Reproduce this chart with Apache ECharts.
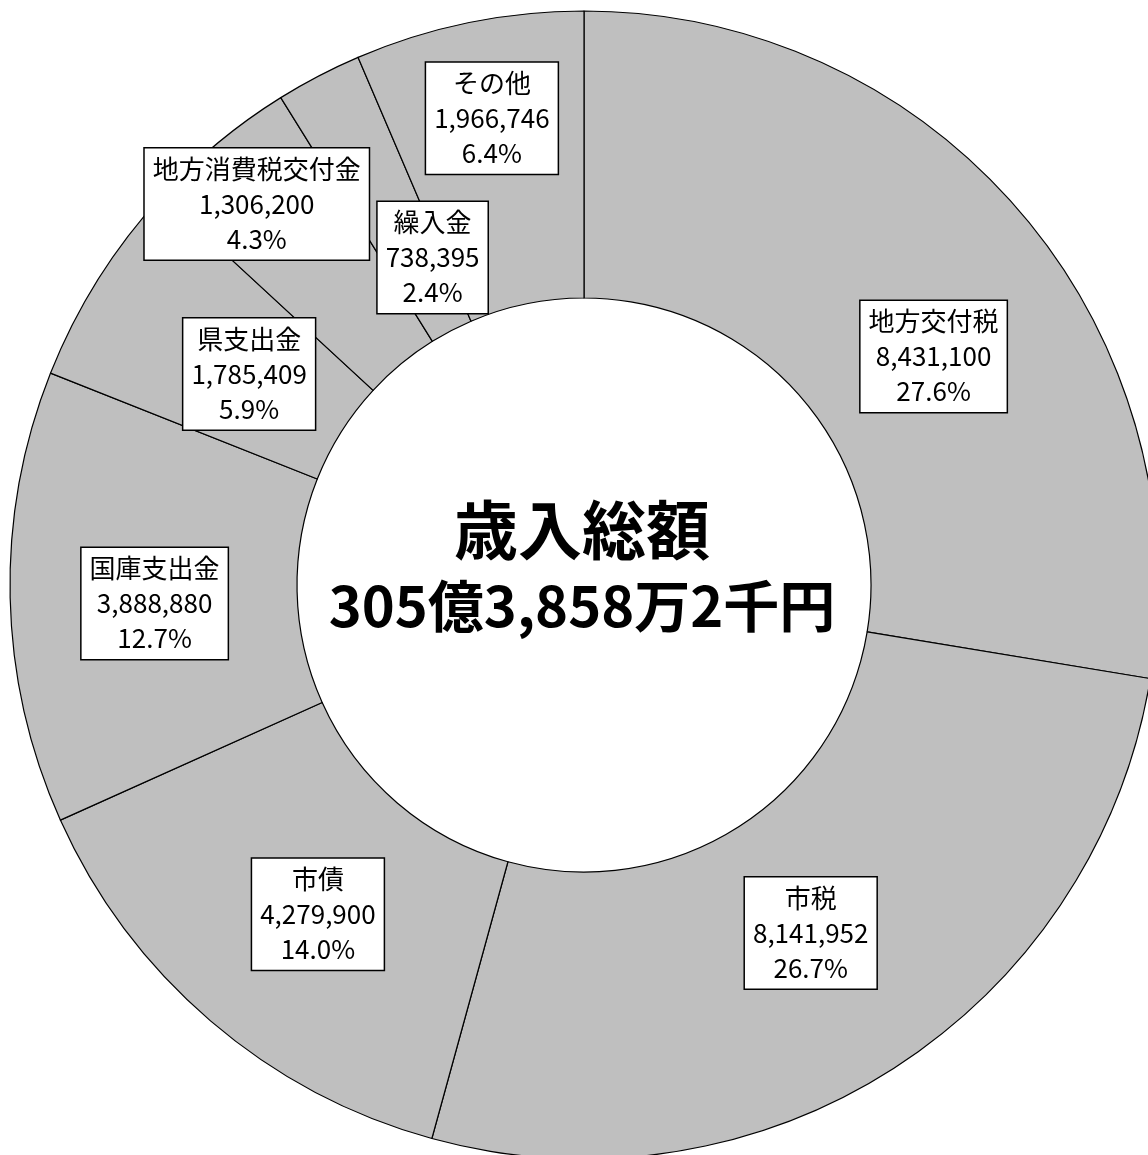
<!DOCTYPE html>
<html>
<head>
<meta charset="utf-8">
<script src="https://cdn.jsdelivr.net/npm/echarts@6/dist/echarts.min.js"></script>
<style>
html,body{margin:0;padding:0;background:#fff;}
#chart{width:1148px;height:1155px;}
</style>
</head>
<body>
<div id="chart"></div>
<script>
const categories = ['地方交付税','市税','市債','国庫支出金','県支出金','地方消費税交付金','繰入金','その他'];
const values = [8431100, 8141952, 4279900, 3888880, 1785409, 1306200, 738395, 1966746];
const centerTitle = '歳入総額';
const centerAmount = '305億3,858万2千円';
// label offsets from default inside position (layout only)
const labelOffsets = [[19,52],[-7,-17],[16,0],[4,9],[32,20],[-51,-47],[49,57],[-5,-42]];

const chart = echarts.init(document.getElementById('chart'));
const fontCJK = '"Noto Sans CJK JP", "Noto Sans", sans-serif';
chart.setOption({
  backgroundColor: '#ffffff',
  animation: false,
  series: [{
    type: 'pie',
    center: [584, 585],
    radius: [287, 574],
    startAngle: 90,
    clockwise: true,
    percentPrecision: 1,
    silent: true,
    itemStyle: { color: '#bfbfbf', borderColor: '#000', borderWidth: 1.2 },
    labelLine: { show: false },
    label: {
      show: true,
      position: 'inside',
      formatter: p => p.name + '\n' + p.value.toLocaleString('en-US') + '\n' + p.percent.toFixed(1) + '%',
      fontFamily: fontCJK,
      fontSize: 26,
      lineHeight: 35,
      color: '#000',
      backgroundColor: '#fff',
      borderColor: '#000',
      borderWidth: 1.5,
      padding: [3, 8, 3, 8],
      align: 'center'
    },
    data: categories.map((c, i) => ({
      name: c,
      value: values[i],
      label: { offset: labelOffsets[i] }
    }))
  }],
  graphic: [
    { type: 'text', x: 582, y: 498, style: { text: centerTitle, font: 'bold 64px ' + fontCJK, fill: '#000', align: 'center' } },
    { type: 'text', x: 582, y: 578, style: { text: centerAmount, font: 'bold 56px ' + fontCJK, fill: '#000', align: 'center' } }
  ]
});
</script>
</body>
</html>
